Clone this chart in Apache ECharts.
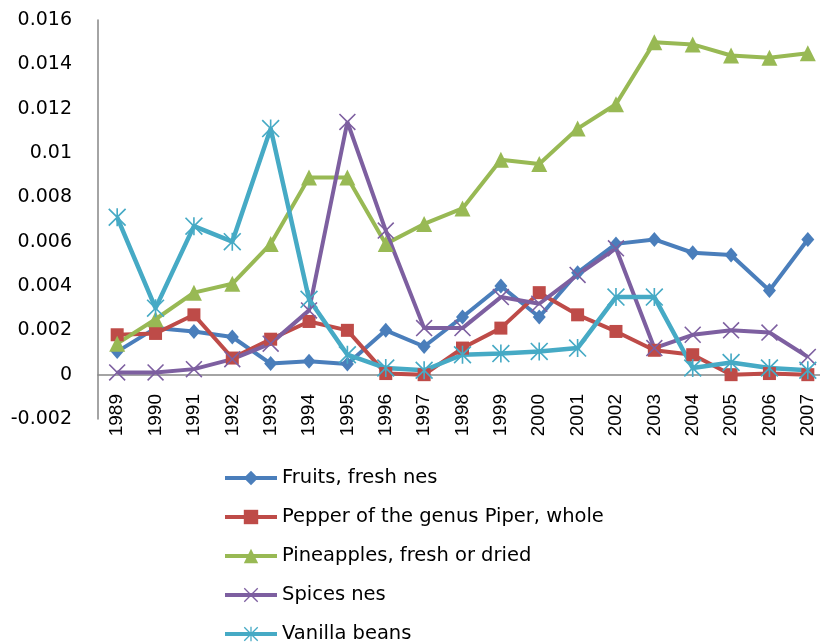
<!DOCTYPE html>
<html>
<head>
<meta charset="utf-8">
<script src="https://cdn.jsdelivr.net/npm/echarts@6/dist/echarts.min.js"></script>
<style>
html,body{margin:0;padding:0;background:#fff;}
#chart{width:820px;height:642px;}
</style>
</head>
<body>
<div id="chart"></div>
<script>
var years = ['1989','1990','1991','1992','1993','1994','1995','1996','1997','1998','1999','2000','2001','2002','2003','2004','2005','2006','2007'];
var fruits = [0.00104,0.0021,0.00195,0.0017,0.0005,0.0006,0.00048,0.0020,0.00127,0.0026,0.0040,0.0026,0.0046,0.0059,0.0061,0.0055,0.0054,0.0038,0.0061];
var pepper = [0.0018,0.00186,0.0027,0.00075,0.0016,0.0024,0.0020,0.00005,0.0,0.0012,0.0021,0.0037,0.0027,0.00195,0.0011,0.0009,0.0,0.00005,0.0];
var pineapples = [0.0014,0.0025,0.0037,0.0041,0.0059,0.0089,0.0089,0.0059,0.0068,0.0075,0.0097,0.0095,0.0111,0.0122,0.0150,0.0149,0.0144,0.0143,0.0145];
var spices = [0.0001,0.0001,0.00025,0.0007,0.0014,0.0029,0.0114,0.0065,0.0021,0.0021,0.0035,0.0032,0.0045,0.0057,0.0012,0.0018,0.0020,0.0019,0.0008];
var vanilla = [0.0071,0.0030,0.0067,0.0060,0.0111,0.0034,0.0009,0.0003,0.0002,0.0009,0.00095,0.00105,0.0012,0.0035,0.0035,0.0003,0.00055,0.0003,0.0002];
var seriesNames = ['Fruits, fresh nes','Pepper of the genus Piper, whole','Pineapples, fresh or dried','Spices nes','Vanilla beans'];

var xPath = 'path://M0,1.3 L1.3,0 L10,8.7 L18.7,0 L20,1.3 L11.3,10 L20,18.7 L18.7,20 L10,11.3 L1.3,20 L0,18.7 L8.7,10 Z';
var starPath = 'path://M0,1.3 L1.3,0 L10,8.7 L18.7,0 L20,1.3 L11.3,10 L20,18.7 L18.7,20 L10,11.3 L1.3,20 L0,18.7 L8.7,10 Z M9.1,0 L10.9,0 L10.9,20 L9.1,20 Z';

var colors = ['#4A7EBB','#BE4B48','#98B954','#7D5FA0','#46AAC5'];
var symbols = ['diamond','rect','triangle',xPath,starPath];
var sizes = [[13,15],13,16,17,18];
var datas = [fruits,pepper,pineapples,spices,vanilla];

var series = datas.map(function(d,i){
  return {
    name: seriesNames[i],
    type: 'line',
    data: d,
    symbol: symbols[i],
    symbolSize: sizes[i],
    showAllSymbol: true,
    color: colors[i],
    lineStyle: {width: i===4 ? 4.5 : 4, color: colors[i]},
    itemStyle: {color: colors[i]},
    emphasis: {disabled: true}
  };
});

var chart = echarts.init(document.getElementById('chart'), null, {renderer:'canvas'});
chart.setOption({
  animation: false,
  backgroundColor: '#fff',
  grid: {left: 98, right: -7, top: 20, bottom: 223, containLabel: false, outerBoundsMode: 'none'},
  xAxis: {
    type: 'category',
    data: years,
    boundaryGap: true,
    axisLine: {onZero: true, lineStyle: {color: '#868686', width: 1.5}},
    axisTick: {show: false},
    axisLabel: {rotate: 90, margin: -25, color: '#000', fontFamily: 'Liberation Sans', fontSize: 19, interval: 0}
  },
  yAxis: {
    type: 'value',
    min: -0.002,
    max: 0.016,
    interval: 0.002,
    axisLine: {show: true, lineStyle: {color: '#868686', width: 1.5}},
    axisTick: {show: false},
    splitLine: {show: false},
    axisLabel: {margin: 26, color: '#000', fontFamily: 'DejaVu Sans', fontSize: 19,
      formatter: function(v){ return String(parseFloat(v.toFixed(3))); }}
  },
  legend: {
    orient: 'vertical',
    left: 223,
    top: 468,
    height: 300,
    padding: 0,
    itemWidth: 52,
    itemHeight: 18,
    itemGap: 19,
    data: seriesNames,
    lineStyle: {width: 4},
    textStyle: {color: '#000', fontFamily: 'DejaVu Sans', fontSize: 19.5, lineHeight: 20}
  },
  series: series
});
</script>
</body>
</html>
